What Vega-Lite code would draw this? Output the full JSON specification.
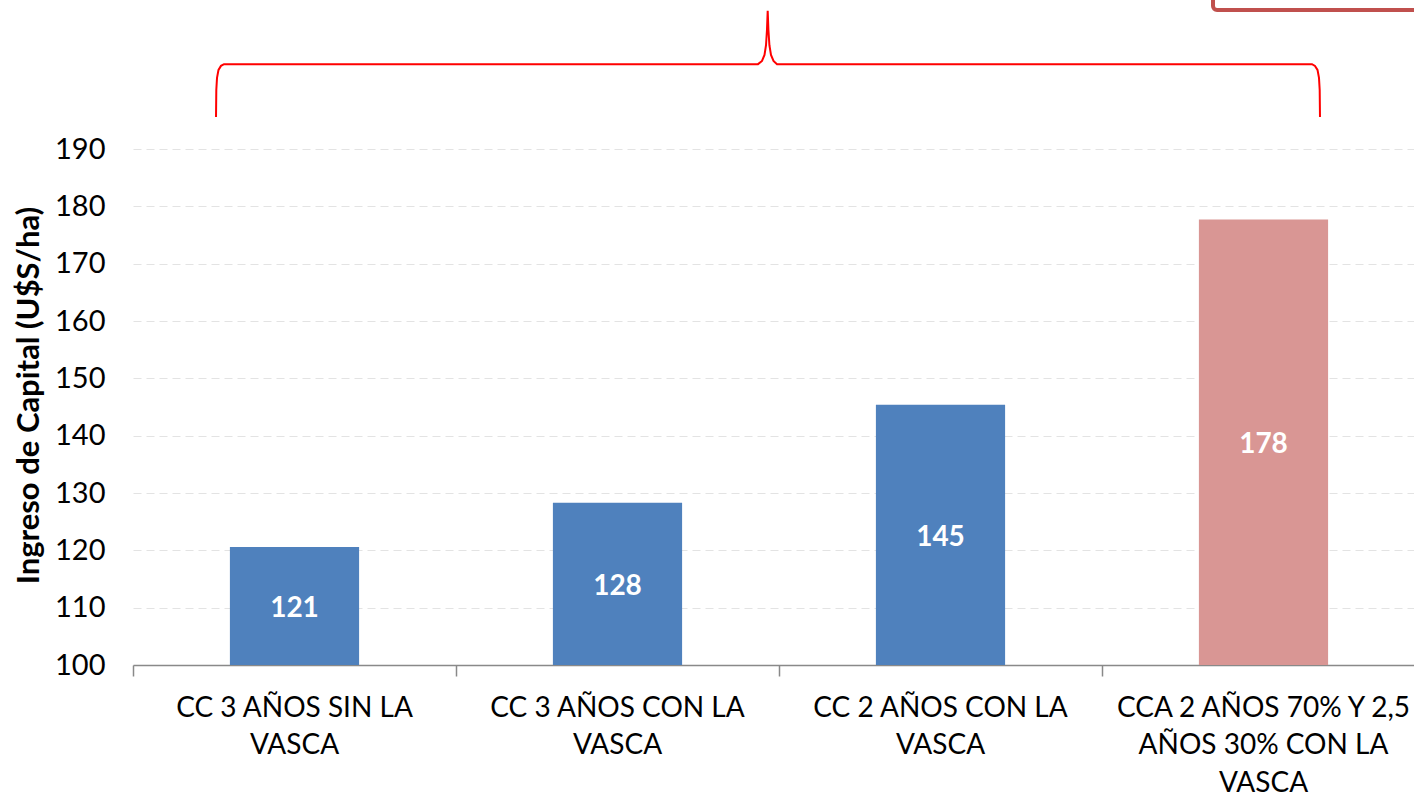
{
  "$schema": "https://vega.github.io/schema/vega-lite/v6.json",
  "width": 1281,
  "height": 516,
  "autosize": {"type": "none"},
  "padding": {"left": 133, "top": 149, "right": 0, "bottom": 132},
  "background": "white",
  "config": {"view": {"stroke": null}, "font": "Lato"},
  "datasets": {
    "bars": [
      {"escenario": "CC 3 AÑOS SIN LA VASCA", "ingreso": 120.6, "grupo": "actual"},
      {"escenario": "CC 3 AÑOS CON LA VASCA", "ingreso": 128.3, "grupo": "actual"},
      {"escenario": "CC 2 AÑOS CON LA VASCA", "ingreso": 145.4, "grupo": "actual"},
      {"escenario": "CCA 2 AÑOS 70% Y 2,5 AÑOS 30% CON LA VASCA", "ingreso": 177.7, "grupo": "propuesta"}
    ],
    "brace": [
      {"i": 1, "u": 0.2570, "v": 195.6},
      {"i": 2, "u": 0.2579, "v": 200.3},
      {"i": 3, "u": 0.2601, "v": 202.4},
      {"i": 4, "u": 0.2647, "v": 203.8},
      {"i": 5, "u": 0.2724, "v": 204.5},
      {"i": 6, "u": 0.2817, "v": 204.8},
      {"i": 7, "u": 1.9350, "v": 204.8},
      {"i": 8, "u": 1.9474, "v": 205.35},
      {"i": 9, "u": 1.9551, "v": 206.4},
      {"i": 10, "u": 1.9598, "v": 208.1},
      {"i": 11, "u": 1.9628, "v": 210.8},
      {"i": 12, "u": 1.9650, "v": 214.1},
      {"i": 13, "u": 1.9672, "v": 210.8},
      {"i": 14, "u": 1.9703, "v": 208.1},
      {"i": 15, "u": 1.9752, "v": 206.4},
      {"i": 16, "u": 1.9830, "v": 205.35},
      {"i": 17, "u": 1.9938, "v": 204.8},
      {"i": 18, "u": 3.6502, "v": 204.8},
      {"i": 19, "u": 3.6594, "v": 204.5},
      {"i": 20, "u": 3.6672, "v": 203.8},
      {"i": 21, "u": 3.6718, "v": 202.4},
      {"i": 22, "u": 3.6740, "v": 200.3},
      {"i": 23, "u": 3.6749, "v": 195.6}
    ],
    "box": [
      {"u1": 3.3437, "u2": 4.6, "v1": 214.25, "v2": 245}
    ]
  },
  "layer": [
    {
      "data": {"name": "bars"},
      "mark": {"type": "bar", "width": {"band": 0.4}},
      "encoding": {
        "x": {
          "field": "escenario",
          "type": "nominal",
          "sort": null,
          "scale": {"range": [0, 1292], "paddingInner": 0, "paddingOuter": 0},
          "axis": {
            "title": null,
            "labelAngle": 0,
            "labelFont": "Lato",
            "labelFontSize": 28,
            "labelColor": "#000000",
            "labelLineHeight": 37.5,
            "labelBaseline": "top",
            "labelPadding": 18,
            "labelLimit": 400,
            "bandPosition": 0,
            "tickSize": 11,
            "tickColor": "#898989",
            "tickWidth": 1.5,
            "domainColor": "#898989",
            "domainWidth": 1.5,
            "grid": false,
            "labelExpr": "datum.value == 'CC 3 AÑOS SIN LA VASCA' ? ['CC 3 AÑOS SIN LA', 'VASCA'] : datum.value == 'CC 3 AÑOS CON LA VASCA' ? ['CC 3 AÑOS CON LA', 'VASCA'] : datum.value == 'CC 2 AÑOS CON LA VASCA' ? ['CC 2 AÑOS CON LA', 'VASCA'] : ['CCA 2 AÑOS 70% Y 2,5', 'AÑOS 30% CON LA', 'VASCA']"
          }
        },
        "y": {
          "field": "ingreso",
          "type": "quantitative",
          "scale": {"domain": [100, 190], "nice": false, "zero": false},
          "axis": {
            "title": "Ingreso de Capital (U$S/ha)",
            "titleFont": "Lato",
            "titleFontSize": 31,
            "titleFontWeight": "bold",
            "titleColor": "#000000",
            "titlePadding": 9,
            "titleY": 246,
            "values": [100, 110, 120, 130, 140, 150, 160, 170, 180, 190],
            "labelFont": "Lato",
            "labelFontSize": 29,
            "labelColor": "#000000",
            "labelPadding": 28,
            "ticks": false,
            "domain": false,
            "grid": true,
            "gridColor": "#E3E3E3",
            "gridDash": [8, 5],
            "gridWidth": 1.2
          }
        },
        "y2": {"datum": 100},
        "color": {
          "field": "grupo",
          "type": "nominal",
          "scale": {"domain": ["actual", "propuesta"], "range": ["#4F81BD", "#D99694"]},
          "legend": null
        }
      }
    },
    {
      "data": {"name": "bars"},
      "mark": {"type": "text", "color": "#FFFFFF", "fontWeight": "bold", "fontSize": 28, "font": "Lato", "align": "center", "baseline": "middle", "dy": 3},
      "encoding": {
        "x": {"field": "escenario", "type": "nominal", "sort": null, "scale": {"range": [0, 1292], "paddingInner": 0, "paddingOuter": 0}, "axis": null},
        "y": {"field": "ingreso", "type": "quantitative", "scale": {"domain": [100, 280], "nice": false, "zero": false}, "axis": null},
        "text": {"field": "ingreso", "type": "quantitative", "format": ".0f"}
      }
    },
    {
      "layer": [
        {
          "data": {"name": "brace"},
          "mark": {"type": "line", "color": "#FF0000", "strokeWidth": 2, "clip": false},
          "encoding": {
            "x": {"field": "u", "type": "quantitative", "scale": {"domain": [0, 4], "range": [0, 1292], "nice": false, "zero": false}, "axis": null},
            "y": {"field": "v", "type": "quantitative", "scale": {"domain": [100, 190], "nice": false, "zero": false}, "axis": null},
            "order": {"field": "i", "type": "quantitative"}
          }
        },
        {
          "data": {"name": "box"},
          "mark": {"type": "rect", "fill": null, "stroke": "#C0504D", "strokeWidth": 4, "cornerRadius": 4, "clip": false},
          "encoding": {
            "x": {"field": "u1", "type": "quantitative"},
            "x2": {"field": "u2"},
            "y": {"field": "v1", "type": "quantitative"},
            "y2": {"field": "v2"}
          }
        }
      ]
    }
  ],
  "resolve": {"scale": {"x": "independent", "y": "independent"}}
}
